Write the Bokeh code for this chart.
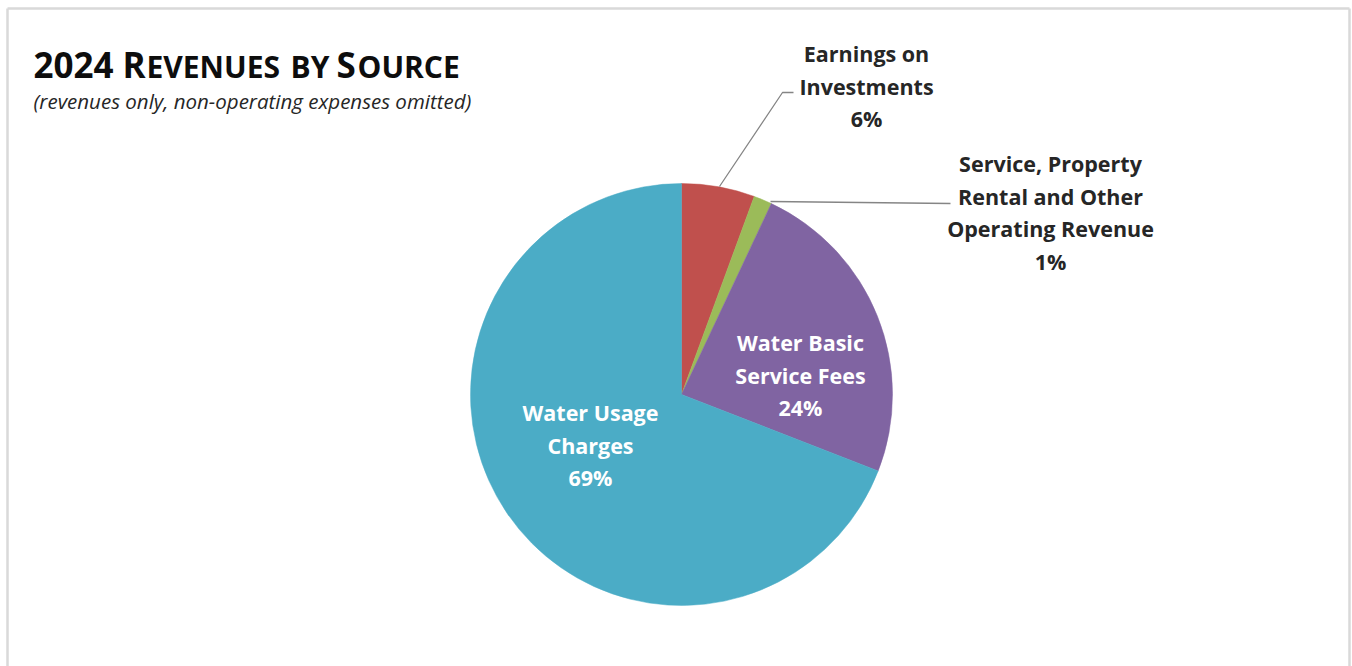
import math
from bokeh.plotting import figure
from bokeh.models import ColumnDataSource, Range1d
from bokeh.core.properties import value
from bokeh.embed import file_html
from bokeh.resources import INLINE

W, H = 1352, 666

# ---- data ----
categories = ["Earnings on Investments",
              "Service, Property Rental and Other Operating Revenue",
              "Water Basic Service Fees",
              "Water Usage Charges"]
shares = [5.6, 1.4, 23.9, 69.1]
pct_labels = ["6%", "1%", "24%", "69%"]
label_lines = [["Earnings on", "Investments"],
               ["Service, Property", "Rental and Other", "Operating Revenue"],
               ["Water Basic", "Service Fees"],
               ["Water Usage", "Charges"]]
colors = ["#C0504D", "#9BBB59", "#8064A2", "#4BACC6"]

title_parts = [("2024", "big"), ("R", "big"), ("EVENUES", "small"), ("BY", "small"),
               ("S", "big"), ("OURCE", "small")]
subtitle = "(revenues only, non-operating expenses omitted)"

FONT = "Open Sans"

def Y(py):
    return H - py

p = figure(width=W, height=H, output_backend="svg", toolbar_location=None,
           x_range=Range1d(0, W), y_range=Range1d(0, H), min_border=0,
           background_fill_color="white", border_fill_color="white")
p.axis.visible = False
p.grid.visible = False
p.outline_line_color = None

# frame
p.segment(x0=[7, 7, 1349], y0=[Y(8), Y(8), Y(8)], x1=[1349, 7, 1349], y1=[Y(8), Y(700), Y(700)],
          line_color="#d9d9d9", line_width=2.5)

# pie
cx, cy, r = 681, Y(394), 211
total = sum(shares)
starts, ends = [], []
a = math.pi / 2
for s in shares:
    starts.append(a)
    a -= s / total * 2 * math.pi
    ends.append(a)
src = ColumnDataSource(dict(start=starts, end=ends, color=colors, cat=categories))
p.wedge(x=cx, y=cy, radius=r, start_angle="start", end_angle="end", direction="clock",
        fill_color="color", line_color="color", line_width=0.5, source=src)

# leader lines
p.line(x=[793, 782, 719], y=[Y(92), Y(92), Y(186)], line_color="#858585", line_width=1.3)
p.line(x=[770, 950], y=[Y(201), Y(203)], line_color="#858585", line_width=1.3)

# data labels
label_pos = [(866, 53, "#262626"), (1050, 163, "#262626"), (800, 342, "white"), (590, 412, "white")]
step = 32.5
tx, ty, tt, tc = [], [], [], []
for lines, pct, (lx, ly, col) in zip(label_lines, pct_labels, label_pos):
    for i, t in enumerate(lines + [pct]):
        tx.append(lx); ty.append(Y(ly + i * step)); tt.append(t); tc.append(col)
p.text(x=tx, y=ty, text=tt, text_color=tc, text_align="center", text_baseline="middle",
       text_font=value(FONT), text_font_style="bold", text_font_size="21.5px")

# title with small caps
big_px, small_px = 35, 30
xs = [33, 122, 146, 290, 336, 357]
for (t, kind), x in zip(title_parts, xs):
    fs = big_px if kind == "big" else small_px
    p.text(x=[x], y=[Y(78 - 0.39 * fs)], text=[t], text_align="left", text_baseline="middle",
           text_font=value(FONT), text_font_style="bold",
           text_font_size=f"{fs}px", text_color="#0d0d0d")

p.text(x=[33], y=[Y(100)], text=[subtitle], text_align="left", text_baseline="middle",
       text_font=value(FONT), text_font_style="italic", text_font_size="20.5px", text_color="#262626")

open("out.html", "w").write(file_html(p, INLINE))
